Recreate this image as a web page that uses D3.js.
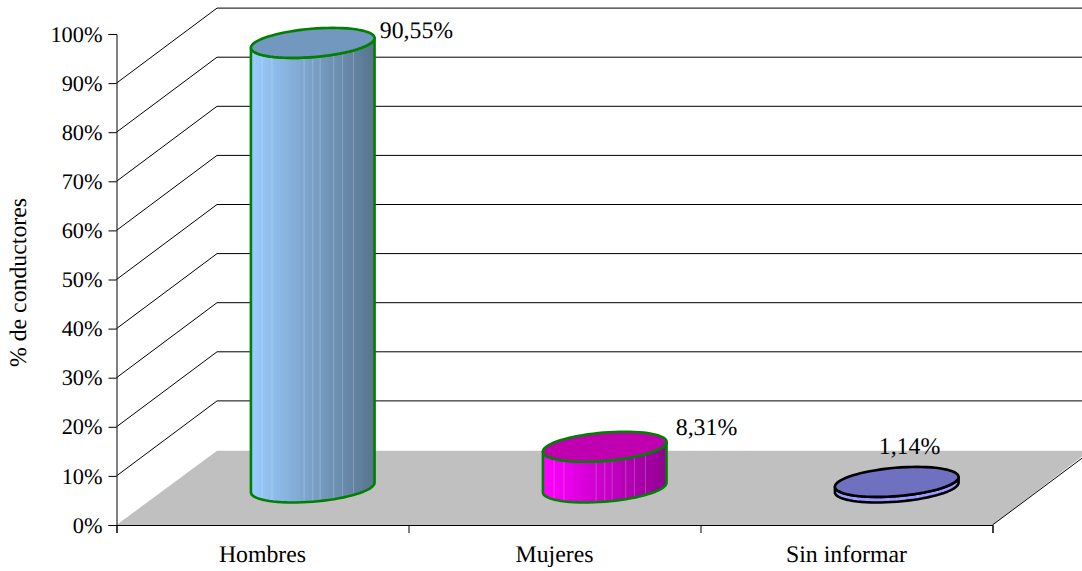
<!DOCTYPE html>
<html><head><meta charset="utf-8">
<script src="https://cdnjs.cloudflare.com/ajax/libs/d3/7.8.5/d3.min.js"></script>
<style>html,body{margin:0;padding:0;background:#fff}svg{display:block}text{font-family:"Liberation Serif","Times New Roman",serif;fill:#000;text-rendering:geometricPrecision}</style>
</head><body><div id="c"></div>
<script>
const categories = ["Hombres", "Mujeres", "Sin informar"];
const values = [90.55, 8.31, 1.14];
const valueLabels = ["90,55%", "8,31%", "1,14%"];
const yTicks = [0, 10, 20, 30, 40, 50, 60, 70, 80, 90, 100];
const yTitle = "% de conductores";
const sideFrom = ["#9accff", "#ff00ff", "#9999ff"];
const sideTo = ["#59758f", "#920092", "#9999ff"];
const topFill = ["#7298c0", "#c000b0", "#7070c0"];
const strokes = ["#008000", "#008000", "#000000"];

const W = 1082, H = 571;
const frontLeft = 116.5, frontRight = 992.5, depthX = 100.5, depthY = -75;
const y = d3.scaleLinear().domain([0, 100]).range([525, 34]);
const xPos = d3.scaleLinear().domain([0, 3]).range([frontLeft, frontRight]);
const xBand = d3.scaleBand().domain(categories).range([frontLeft, frontRight]);

const svg = d3.select("#c").append("svg").attr("width", W).attr("height", H);
const defs = svg.append("defs");

// floor
svg.append("path").attr("fill", "#c0c0c0")
  .attr("d", d3.line()([[frontLeft, y(0)], [frontLeft + depthX, y(0) + depthY + 0.7], [W, y(0) + depthY + 0.7], [W, y(0) + depthY + 6.5], [frontRight, y(0)]]) + "Z");

// back wall grid + side-wall diagonals
const gridTicks = yTicks.filter(d => d > 0 && d < 100);
svg.append("g").selectAll("line").data(gridTicks).join("line")
  .attr("x1", frontLeft + depthX).attr("x2", W)
  .attr("y1", d => y(d) + depthY).attr("y2", d => y(d) + depthY)
  .attr("stroke", "#000").attr("stroke-width", 1);
svg.append("g").selectAll("line").data(gridTicks).join("line")
  .attr("x1", frontLeft).attr("x2", frontLeft + depthX)
  .attr("y1", d => y(d)).attr("y2", d => y(d) + depthY)
  .attr("stroke", "#000").attr("stroke-width", 1);
// right floor edge
svg.append("line").attr("x1", frontRight).attr("y1", y(0)).attr("x2", W)
  .attr("y2", y(0) + depthY * (W - frontRight) / depthX).attr("stroke", "#000");

// axes
const axL = svg.append("g").attr("transform", `translate(${frontLeft},0)`)
  .call(d3.axisLeft(y).tickValues(yTicks).tickSize(8).tickPadding(6).tickFormat(d => d + "%"));
const axB = svg.append("g").attr("transform", `translate(0,${y(0)})`)
  .call(d3.axisBottom(xPos).tickValues([0, 1, 2, 3]).tickSize(8).tickFormat(""));
[axL, axB].forEach(a => { a.selectAll("path,line").attr("stroke", "#000").attr("stroke-width", 1); });
axL.selectAll("text").attr("font-size", 22.3).attr("font-family", null).attr("fill", "#000");
axL.attr("font-family", null).attr("font-size", null);
axB.attr("font-family", null);

// category labels
svg.append("g").selectAll("text").data(categories).join("text")
  .attr("x", d => xBand(d) + xBand.bandwidth() / 2).attr("y", 562)
  .attr("text-anchor", "middle").attr("font-size", 23.8).text(d => d);

// y title
svg.append("text").attr("transform", "translate(26,282.5) rotate(-90)")
  .attr("text-anchor", "middle").attr("font-size", 23.8).text(yTitle);

// cylinders
const a = 58.5, cx = 20, cy = -15;
const ell = (c0, c1) => d3.range(0, 73).map(i => {
  const t = i / 72 * 2 * Math.PI;
  return [c0 + a * Math.cos(t) + cx * Math.sin(t), c1 + cy * Math.sin(t)];
});
const halfW = Math.hypot(a, cx), tLeft = Math.atan2(cx, a);
const arcFront = (c0, c1) => d3.range(0, 37).map(i => {
  const t = tLeft - i / 36 * Math.PI;
  return [c0 + a * Math.cos(t) + cx * Math.sin(t), c1 + cy * Math.sin(t)];
});
const line = d3.line();
const stripes = 62;
const sheen = [0.09, 0.17, 0.43, 0.50, 0.56, 0.67, 0.74, 0.83];

categories.forEach((cat, i) => {
  const c0 = xBand(cat) + xBand.bandwidth() / 2 + depthX / 2;
  const base = y(0) + depthY / 2;
  const top = base - (y(0) - y(values[i]));
  const sidePts = [...arcFront(c0, base), ...arcFront(c0, top).reverse()];
  const id = "clip" + i;
  defs.append("clipPath").attr("id", id).append("path").attr("d", line(sidePts) + "Z");
  const col = d3.interpolateRgb(sideFrom[i], sideTo[i]);
  const g = svg.append("g");
  const sx = d3.scaleLinear().domain([0, stripes]).range([c0 - halfW, c0 + halfW]);
  const clipG = g.append("g").attr("clip-path", `url(#${id})`);
  clipG.selectAll("rect").data(d3.range(stripes)).join("rect")
    .attr("x", d => sx(d)).attr("width", d => sx(d + 1) - sx(d) + 0.6)
    .attr("y", top - 40).attr("height", base - top + 80)
    .attr("fill", d => col(d / (stripes - 1)));
  clipG.selectAll("line").data(sheen).join("line")
    .attr("x1", d => c0 - halfW + d * 2 * halfW).attr("x2", d => c0 - halfW + d * 2 * halfW)
    .attr("y1", top - 40).attr("y2", base + 40)
    .attr("stroke", "#fff").attr("stroke-opacity", 0.22).attr("stroke-width", 1);
  g.append("path").attr("d", line(sidePts) + "Z").attr("fill", "none")
    .attr("stroke", strokes[i]).attr("stroke-width", 2.6).attr("stroke-linejoin", "round");
  g.append("path").attr("d", line(ell(c0, top)) + "Z").attr("fill", topFill[i])
    .attr("stroke", strokes[i]).attr("stroke-width", 2.6);
});

// value labels
const labelOffset = [[67, -12], [71, -19], [-18, -35]];
svg.append("g").selectAll("text").data(valueLabels).join("text")
  .attr("x", (d, i) => xBand(categories[i]) + xBand.bandwidth() / 2 + depthX / 2 + labelOffset[i][0])
  .attr("y", (d, i) => y(0) + depthY / 2 - (y(0) - y(values[i])) + labelOffset[i][1] + 7)
  .attr("font-size", 23.8).text(d => d);
</script></body></html>
